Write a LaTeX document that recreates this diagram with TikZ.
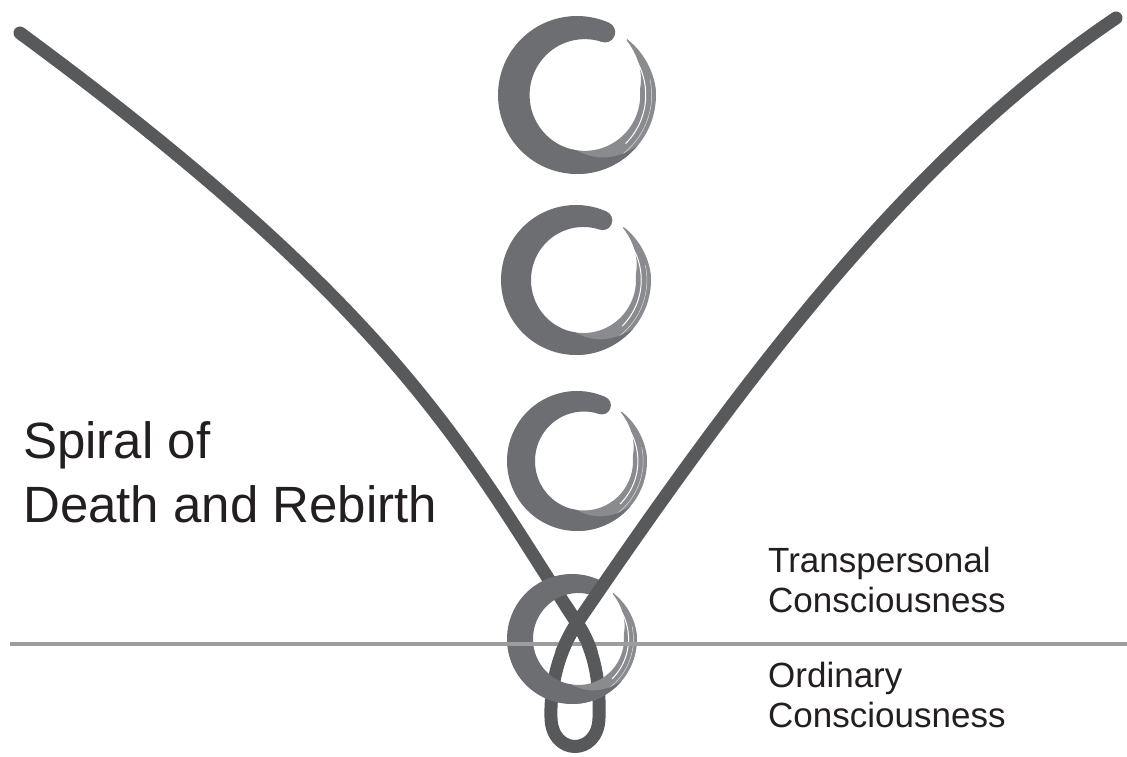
\documentclass[tikz,border=0pt]{standalone}
\usepackage{fontspec}
\setmainfont{Liberation Sans}
\usetikzlibrary{positioning}

\definecolor{vgray}{HTML}{58595B}
\definecolor{ensodark}{HTML}{6D6E71}
\definecolor{ensolight}{HTML}{8A8B8E}
\definecolor{levelgray}{HTML}{9D9D9D}
\definecolor{inkblack}{HTML}{231F20}

\tikzset{
  declare function={rin(\t)=0.70+0.10*cos(\t); gd(\t)=min(1,max(0,(\t-270)/50)); ft(\t)=min(1,max(0,(\t-365)/43));},
  vstroke/.style={draw=vgray, line width=13pt, line cap=round, line join=round},
  levelline/.style={draw=levelgray, line width=3.5pt},
  bigtitle/.style={anchor=base west, inner sep=0pt, text=inkblack, font=\fontsize{51}{61}\selectfont},
  sidelabel/.style={anchor=base west, inner sep=0pt, text=inkblack, font=\fontsize{35}{40}\selectfont}
}

% brush circle: centre x, centre y (pixels, y down), outer radius
\newcommand{\enso}[3]{%
  \fill[ensolight] plot[domain=265:408,samples=70] ({#1+#3*(1-0.05*ft(\x))*cos(\x)},{-#2+#3*(1-0.05*ft(\x))*sin(\x)})
    -- plot[domain=408:265,samples=70] ({#1+#3*(rin(\x)+0.92*ft(\x)*(1-0.05*ft(\x)-rin(\x)))*cos(\x)},{-#2+#3*(rin(\x)+0.92*ft(\x)*(1-0.05*ft(\x)-rin(\x)))*sin(\x)}) -- cycle;
  \draw[white, line width=1pt] plot[domain=315:388,samples=30] ({#1+0.87*#3*cos(\x)},{-#2+0.87*#3*sin(\x)});
  \draw[white, line width=0.5pt, opacity=0.7] plot[domain=295:372,samples=30] ({#1+0.945*#3*cos(\x)},{-#2+0.945*#3*sin(\x)});
  \fill[ensodark] plot[domain=66:320,samples=90] ({#1+#3*cos(\x)},{-#2+#3*sin(\x)})
    -- plot[domain=320:66,samples=90] ({#1+#3*(rin(\x)+gd(\x)*(1-rin(\x)))*cos(\x)},{-#2+#3*(rin(\x)+gd(\x)*(1-rin(\x)))*sin(\x)}) -- cycle;
  \fill[ensodark] ({#1+0.87*#3*cos(66)},{-#2+0.87*#3*sin(66)}) circle[radius=0.13*#3];
}

\begin{document}
\begin{tikzpicture}[x=1pt, y=1pt]
\fill[white] (0,0) rectangle (1127,-757);
\useasboundingbox (0,0) rectangle (1127,-757);

% left branch and lower loop
\coordinate (topL) at (20,-33);
\coordinate (cross) at (577,-623);
\coordinate (topR) at (1116,-18);
\draw[vstroke] (topL) .. controls (406,-317) and (467,-456) .. (cross)
  .. controls (597,-653) and (600,-690) .. (599,-718)
  .. controls (598,-756) and (552,-756) .. (551,-718)
  .. controls (550,-690) and (557,-653) .. (cross);

% brush circles
\enso{577}{95}{79}
\enso{576}{280}{75}
\enso{577}{461}{70}
\enso{572}{639}{65}

% level line
\coordinate (lvlL) at (10,-644);
\coordinate (lvlR) at (1127,-644);
\draw[levelline] (lvlL) -- (lvlR);

% strokes inside the lowest circle, right branch on top
\draw[vstroke] (566,-606) -- (cross) .. controls (583,-632) and (588,-642) .. (591,-651);
\draw[vstroke] (562,-651.5) .. controls (566,-642) and (571.4,-631.3) .. (cross)
  .. controls (746,-375) and (909,-158) .. (topR);

% labels
\node[bigtitle] (spiral) at (23,-458) {Spiral of};
\node[bigtitle] (rebirth) at (23,-522) {Death and Rebirth};
\node[sidelabel] (trans) at (768,-572) {Transpersonal};
\node[sidelabel] (transc) at (768,-612) {Consciousness};
\node[sidelabel] (ord) at (768,-687) {Ordinary};
\node[sidelabel] (ordc) at (768,-727) {Consciousness};
\end{tikzpicture}
\end{document}
